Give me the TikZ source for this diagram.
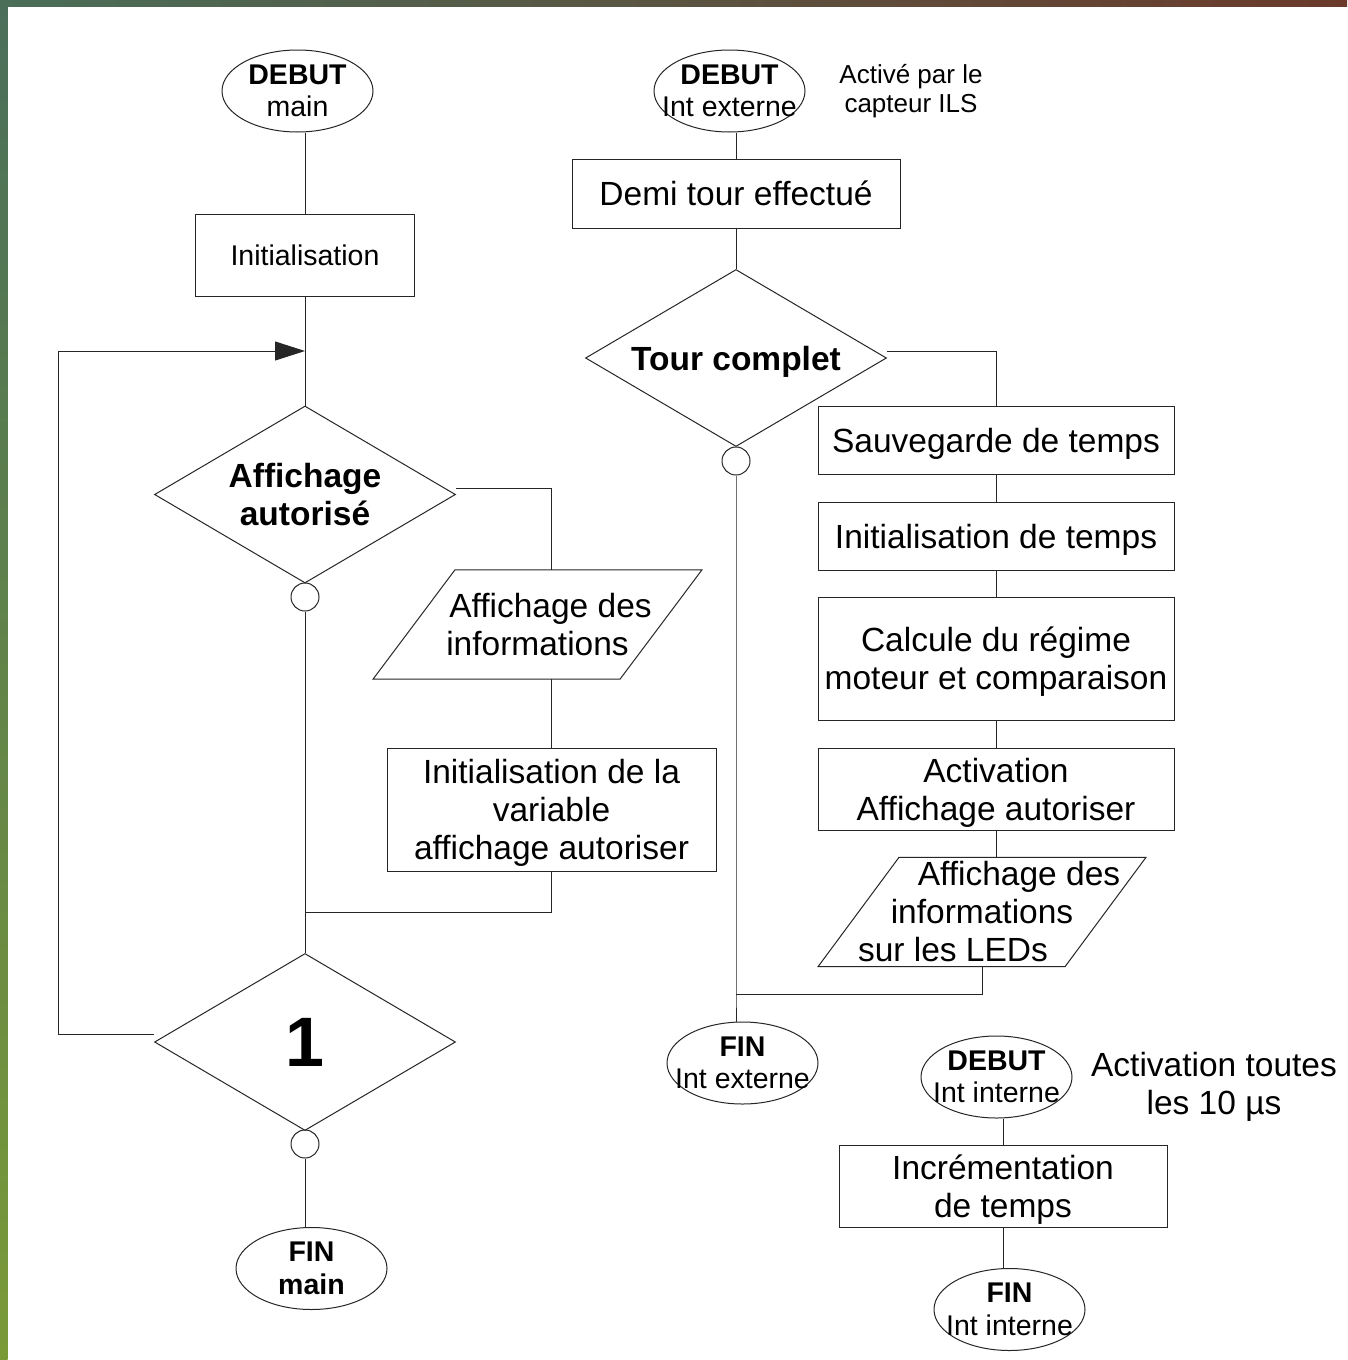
\documentclass[tikz,border=0pt]{standalone}
\usepackage{fontspec}
\setmainfont{Liberation Sans}
\usetikzlibrary{shapes.geometric,arrows.meta}
\newcommand{\nodp}[1]{\raisebox{0pt}[\height][0pt]{#1}}
\definecolor{stripA}{HTML}{4A6E58}
\definecolor{stripB}{HTML}{31505C}
\definecolor{stripC}{HTML}{6B3A2B}
\definecolor{sideA}{HTML}{4A6E5A}
\definecolor{sideB}{HTML}{5B7B52}
\definecolor{sideC}{HTML}{7A9A38}
\begin{document}
\begin{tikzpicture}[x=1pt,y=-1pt,
  ln/.style={draw=black!85,line width=1pt},
  box/.style={draw=black!85,line width=1pt,rectangle,inner sep=0pt,align=center,font=\fontsize{33.5}{38}\selectfont},
  ell/.style={draw=black!85,line width=1pt,ellipse,minimum width=151pt,minimum height=82pt,inner sep=0pt},
  etxt/.style={inner sep=0pt,align=center,font=\fontsize{28.5}{32.5}\selectfont},
  dia/.style={draw=black!85,line width=1pt,diamond,aspect=1.7,minimum width=301pt,minimum height=177pt,inner sep=0pt,align=center,font=\bfseries\fontsize{33.5}{38}\selectfont},
  circ/.style={draw=black!85,line width=1pt,circle,minimum size=28pt,inner sep=0pt},
  pbody/.style={rectangle,inner sep=0pt,align=center,minimum width=247pt,minimum height=109pt,font=\fontsize{33.5}{38}\selectfont},
  note/.style={inner sep=0pt,align=center}
]
\useasboundingbox (0,0) rectangle (1347,1360);
\fill[white] (0,0) rectangle (1347,1360);
\shade[top color=sideA,middle color=sideB,bottom color=sideC] (0,0) rectangle (7.5,1360);
\shade[left color=stripA,middle color=stripB,right color=stripC] (0,0) rectangle (1347,6);

% ---------- main ----------
\node[ell] (deb1) at (297.5,91) {};
\node[etxt] (deb1t) at (deb1) {\textbf{DEBUT}\\main};
\node[box,minimum width=219pt,minimum height=82pt,font=\fontsize{28.5}{32.5}\selectfont] (init1) at (305,255) {Initialisation};
\node[dia] (aff) at (305,494.5) {Affichage\\autorisé};
\node[circ] (c1) at (305,597) {};
\node[pbody] (par1) at (537.5,624.5) {\hspace*{26pt}Affichage des\\informations};
\draw[ln] ([xshift=-82.5pt]par1.north) -- ([xshift=164.5pt]par1.north)
  -- ([xshift=82.5pt]par1.south) -- ([xshift=-164.5pt]par1.south) -- cycle;
\node[box,minimum width=329pt,minimum height=123pt] (var) at (551.5,809.5) {Initialisation de la\\variable\\\nodp{affichage autoriser}};
\node[dia,font=\bfseries\fontsize{70}{80}\selectfont] (un) at (305,1042) {1};
\node[circ] (c2) at (305,1144) {};
\node[ell] (fin1) at (311.5,1268.5) {};
\node[etxt] (fin1t) at (fin1) {\textbf{FIN}\\\textbf{main}};

\coordinate (j1) at (305,351);
\coordinate (lp) at (58,351);
\coordinate (j2) at (305,912);

\draw[ln] (deb1.south -| init1.north) -- (init1.north);
\draw[ln] (init1.south) -- (aff.north);
\draw[ln] (c1.south) -- (un.north);
\draw[ln] ([yshift=6.5pt]aff.east) -| (var.north |- par1.north);
\draw[ln] (var.north |- par1.south) -- (var.north);
\draw[ln] (var.south) |- (j2);
\draw[ln,-{Triangle[length=30pt,width=19pt]}] ([yshift=8pt]un.west) -| (lp) -- (j1);
\draw[ln] (c2.south) -- (c2.south |- fin1.north);

% ---------- interruption externe ----------
\node[ell] (deb2) at (729.5,91) {};
\node[etxt] (deb2t) at (deb2) {\textbf{DEBUT}\\Int externe};
\node[note,font=\fontsize{26}{29}\selectfont] (note1) at (911,88.5) {Activé par le\\\nodp{capteur ILS}};
\node[box,minimum width=328pt,minimum height=69pt] (demi) at (736,193.5) {Demi tour effectué};
\node[dia] (tour) at (736,358) {\nodp{Tour complet}};
\node[circ] (c3) at (736,461) {};
\node[box,minimum width=356pt,minimum height=68pt] (sauv) at (996,440) {\nodp{Sauvegarde de temps}};
\node[box,minimum width=356pt,minimum height=68pt] (initt) at (996,536) {\nodp{Initialisation de temps}};
\node[box,minimum width=356pt,minimum height=123pt] (calc) at (996,658.5) {Calcule du régime\\\nodp{moteur et comparaison}};
\node[box,minimum width=356pt,minimum height=82pt] (activ) at (996,789) {Activation\\\nodp{Affichage autoriser}};
\node[pbody] (par2) at (982,912) {\hspace*{74pt}Affichage des\\informations\\sur les LEDs\hspace*{58pt}};
\draw[ln] ([xshift=-83pt]par2.north) -- ([xshift=164pt]par2.north)
  -- ([xshift=83pt]par2.south) -- ([xshift=-164pt]par2.south) -- cycle;
\node[ell] (fin2) at (742.5,1063) {};
\node[etxt] (fin2t) at (fin2) {\textbf{FIN}\\Int externe};

\coordinate (j3) at (736,994);
\draw[ln] (deb2.south -| demi.north) -- (demi.north);
\draw[ln] (demi.south) -- (tour.north);
\draw[ln] (c3.south) -- (j3) -- (j3 |- fin2.north);
\draw[ln] (par2.south) |- (j3);
\draw[ln] ([yshift=7pt]tour.east) -| (sauv.north);
\draw[ln] (sauv.south) -- (initt.north);
\draw[ln] (initt.south) -- (calc.north);
\draw[ln] (calc.south) -- (activ.north);
\draw[ln] (activ.south) -- (activ.south |- par2.north);

% ---------- interruption interne ----------
\node[ell] (deb3) at (996.5,1077) {};
\node[etxt] (deb3t) at (deb3) {\textbf{DEBUT}\\Int interne};
\node[note,font=\fontsize{33.5}{38}\selectfont] (note2) at (1214,1083) {Activation toutes\\\nodp{les 10 µs}};
\node[box,minimum width=328pt,minimum height=82pt] (incr) at (1003,1186) {Incrémentation\\\nodp{de temps}};
\node[ell] (fin3) at (1009.5,1309.5) {};
\node[etxt] (fin3t) at (fin3) {\textbf{FIN}\\Int interne};

\draw[ln] (deb3.south -| incr.north) -- (incr.north);
\draw[ln] (incr.south) -- (incr.south |- fin3.north);
\end{tikzpicture}
\end{document}
